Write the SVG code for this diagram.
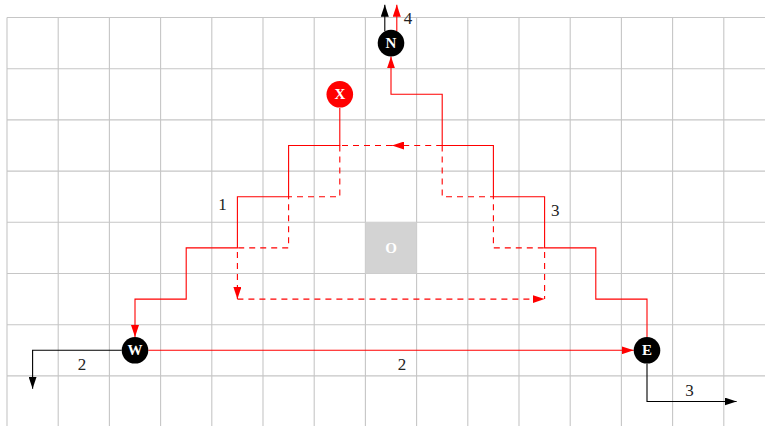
<svg xmlns="http://www.w3.org/2000/svg" width="765" height="426" viewBox="0 0 765 426">
<style>
.grid{stroke:#c6c6c6;stroke-width:1.1;fill:none}
.r{stroke:#ff0000;stroke-width:1.1;fill:none}
.rd{stroke:#ff0000;stroke-width:1.1;fill:none;stroke-dasharray:6 5}
.k{stroke:#000;stroke-width:1.1;fill:none}
.nl{font-family:"Liberation Serif",serif;font-weight:bold;font-size:15px;fill:#fff;text-anchor:middle}
.lb{font-family:"Liberation Serif",serif;font-size:17px;fill:#222;text-anchor:middle}
</style>
<defs>
<marker id="ar" viewBox="0 0 12 8" refX="12" refY="4" markerWidth="12" markerHeight="8" markerUnits="userSpaceOnUse" orient="auto"><path d="M0,0 L12,4 L0,8 z" fill="#ff0000"/></marker>
<marker id="ak" viewBox="0 0 12 8" refX="12" refY="4" markerWidth="12" markerHeight="8" markerUnits="userSpaceOnUse" orient="auto"><path d="M0,0 L12,4 L0,8 z" fill="#000"/></marker>
</defs>
<rect width="765" height="426" fill="#fff"/>
<path class="grid" d="M7,17.5V426M58.2,17.5V426M109.4,17.5V426M160.6,17.5V426M211.8,17.5V426M263,17.5V426M314.2,17.5V426M365.4,17.5V426M416.6,17.5V426M467.8,17.5V426M519,17.5V426M570.2,17.5V426M621.4,17.5V426M672.6,17.5V426M723.8,17.5V426M7,17.5H765M7,68.7H765M7,119.9H765M7,171.1H765M7,222.3H765M7,273.5H765M7,324.7H765M7,375.9H765"/>
<g id="O">
<rect x="365.4" y="222.3" width="51.2" height="51.2" fill="#d3d3d3"/>
<text class="nl" x="391" y="253">O</text>
</g>
<g id="connectors">
<path class="rd" d="M442.2,145.5V196.7H493.4V247.9H544.6V299.1"/>
<path class="rd" d="M339.8,145.5V196.7H288.6V247.9H237.4V299.1" marker-end="url(#ar)"/>
<path class="rd" d="M237.4,299.1H544.6" marker-end="url(#ar)"/>
<path class="rd" d="M442.2,145.5H392" marker-end="url(#ar)"/>
<path class="rd" d="M392,145.5H339.8"/>
<path class="r" d="M339.8,108V145.5H288.6V196.7H237.4V247.9H186.2V299.1H135V337" marker-end="url(#ar)"/>
<path class="r" d="M647,337V299.1H595.8V247.9H544.6V196.7H493.4V145.5H442.2V94.3H391V56.4" marker-end="url(#ar)"/>
<path class="r" d="M148.3,350.3H633.7" marker-end="url(#ar)"/>
<path class="k" d="M121.7,350.3H32.6V388.7" marker-end="url(#ak)"/>
<path class="k" d="M647,363.6V401.5H736.6" marker-end="url(#ak)"/>
<path class="k" d="M384.8,31.2V4.7" marker-end="url(#ak)"/>
<path class="r" d="M396.8,31.2V4.7" marker-end="url(#ar)"/>
</g>
<g id="N"><circle cx="391" cy="43.1" r="13.3" fill="#000"/><text class="nl" x="391" y="48.2">N</text></g>
<g id="X"><circle cx="339.8" cy="94.3" r="13.3" fill="#ff0000"/><text class="nl" x="339.8" y="99.4">X</text></g>
<g id="W"><circle cx="135" cy="350.3" r="13.3" fill="#000"/><text class="nl" x="135" y="355.4">W</text></g>
<g id="E"><circle cx="647" cy="350.3" r="13.3" fill="#000"/><text class="nl" x="647" y="355.4">E</text></g>
<g id="labels">
<text class="lb" x="222.5" y="210">1</text>
<text class="lb" x="555.3" y="216">3</text>
<text class="lb" x="408" y="24">4</text>
<text class="lb" x="82" y="370">2</text>
<text class="lb" x="402" y="370">2</text>
<text class="lb" x="689.5" y="396">3</text>
</g>
</svg>
